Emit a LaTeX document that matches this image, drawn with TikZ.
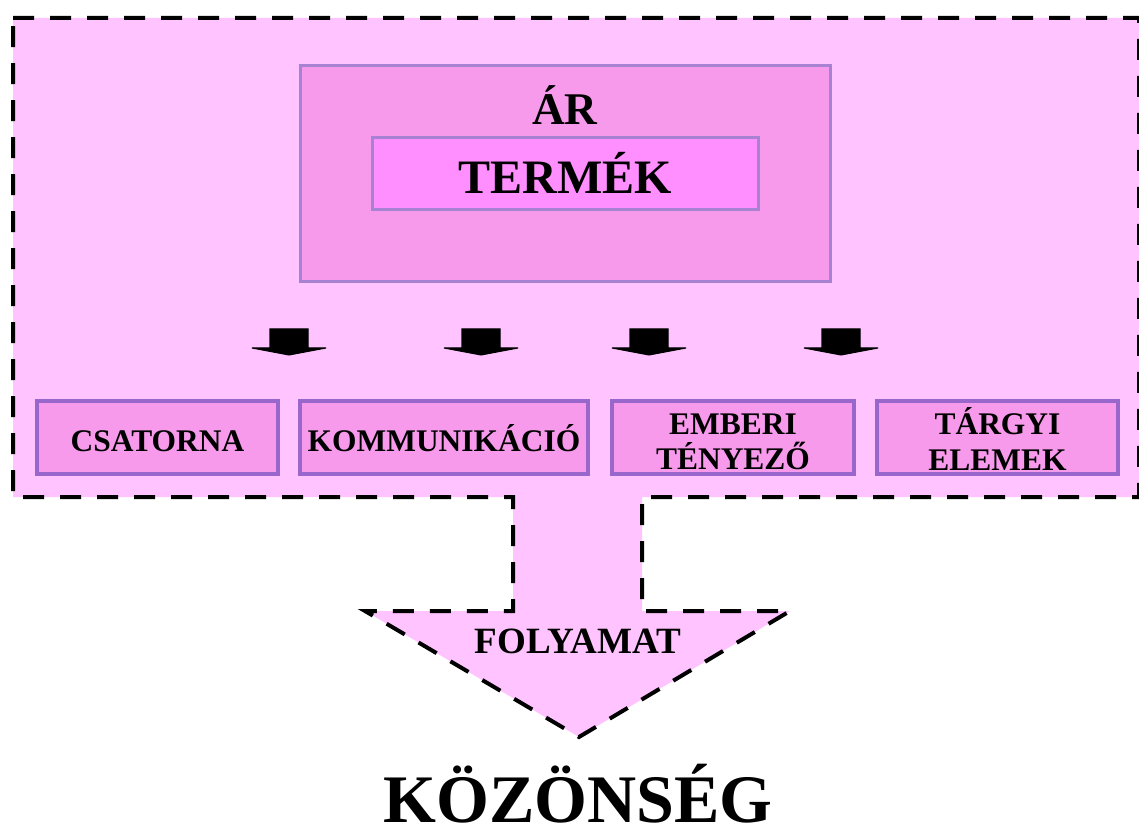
\documentclass[tikz,border=0pt]{standalone}
\usepackage{fontspec}
\setmainfont{Liberation Serif}
\usetikzlibrary{fit}
\definecolor{bgpink}{HTML}{FFC4FF}
\definecolor{boxpink}{HTML}{F79AEB}
\definecolor{innerpink}{HTML}{FF8EFF}
\definecolor{lavborder}{HTML}{A882D2}
\definecolor{purpborder}{HTML}{9966CC}
\begin{document}
\begin{tikzpicture}[x=0.75pt,y=-0.75pt,
  outline/.style={draw=black,line width=3pt,dash pattern=on 15.75pt off 12pt,fill=bgpink,line join=miter},
  bigbox/.style={draw=lavborder,line width=2.25pt,fill=boxpink,inner sep=0pt},
  innerbox/.style={draw=lavborder,line width=2.25pt,fill=innerpink,inner sep=0pt},
  lowbox/.style={draw=purpborder,line width=3pt,fill=boxpink,inner sep=0pt},
  lowtext/.style={font=\fontsize{23.6}{26.4}\selectfont\bfseries,align=center,inner sep=0pt},
  blockarrow/.style={fill=black,draw=black,line width=0.8pt,line join=miter,miter limit=2},
  pics/smallarrow/.style={code={\path[blockarrow] (-19,0) -- (19,0) -- (19,19) -- (37,19) -- (0,26) -- (-37,19) -- (-19,19) -- cycle;}}
]
\useasboundingbox (0,0) rectangle (1139,830);
% outer dashed shape with the process arrow
\path[outline] (13,18) -- (1139,18) -- (1139,497) -- (642,497) -- (642,611) -- (790,611)
  -- (579,737) -- (365,611) -- (513,611) -- (513,497) -- (13,497) -- cycle;

% price / product boxes
\node[bigbox,fit={(300,66) (830,282)}] (price) {};
\node[innerbox,fit={(372,138) (758,210)}] (product) {};
\node[anchor=base,inner sep=0pt,font=\fontsize{34}{38}\selectfont\bfseries] (pricetext) at (565,125) {ÁR};
\node[anchor=base,inner sep=0pt,font=\fontsize{36}{40}\selectfont\bfseries] (producttext) at (565,194) {TERMÉK};

% small block arrows
\pic at (289,329) {smallarrow};
\pic at (481,329) {smallarrow};
\pic at (649,329) {smallarrow};
\pic at (841,329) {smallarrow};

% lower boxes
\node[lowbox,fit={(37,401) (278,474)}] (channel) {};
\node[lowbox,fit={(300,401) (588,474)}] (comm) {};
\node[lowbox,fit={(612,401) (854,474)}] (human) {};
\node[lowbox,fit={(877,401) (1118,474)}] (physical) {};
\node[lowtext,anchor=base] (channeltext) at (157.5,451) {CSATORNA};
\node[lowtext,anchor=base] (commtext) at (444,451) {KOMMUNIKÁCIÓ};
\node[lowtext] (humantext) at (733,442) {EMBERI\\TÉNYEZŐ};
\node[lowtext] (physicaltext) at (997.5,439) {TÁRGYI\\ELEMEK};

% process and audience
\node[anchor=base,inner sep=0pt,font=\fontsize{27.8}{30}\selectfont\bfseries] (process) at (578,653) {FOLYAMAT};
\node[anchor=base,inner sep=0pt,font=\fontsize{51}{56}\selectfont\bfseries] (audience) at (578,822) {KÖZÖNSÉG};
\end{tikzpicture}
\end{document}
